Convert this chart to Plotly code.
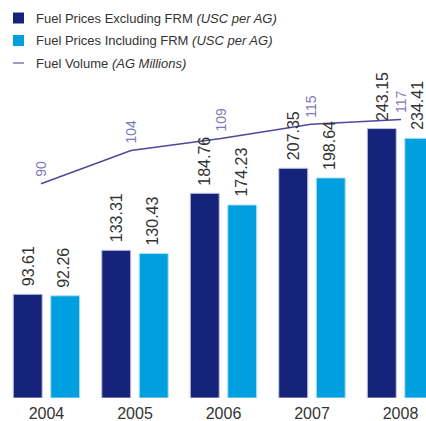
import plotly.graph_objects as go

years = ["2004", "2005", "2006", "2007", "2008"]
excl_frm = [93.61, 133.31, 184.76, 207.35, 243.15]
incl_frm = [92.26, 130.43, 174.23, 198.64, 234.41]
volume = [90, 104, 109, 115, 117]

legend_names = [
    "Fuel Prices Excluding FRM <i>(USC per AG)</i>",
    "Fuel Prices Including FRM <i>(USC per AG)</i>",
    "Fuel Volume <i>(AG Millions)</i>",
]

DARK = "#15237a"
LIGHT = "#009fe0"
LINE = "#4e4898"
LINE_TXT = "#7f7abb"
TXT = "#333333"
FONT = "Liberation Sans"

W, H = 426, 421
TOP, BOT = 88, 398  # plot area in figure pixels
PH = BOT - TOP

xs = list(range(len(years)))

fig = go.Figure()
fig.add_trace(go.Bar(x=xs, y=excl_frm, marker=dict(color=DARK, line=dict(color="#c3c6e6", width=1)),
                     name=legend_names[0], showlegend=False))
fig.add_trace(go.Bar(x=xs, y=incl_frm, marker=dict(color=LIGHT, line=dict(color="#b8e2f6", width=1)),
                     name=legend_names[1], showlegend=False))
fig.add_trace(go.Scatter(x=xs, y=volume, mode="lines", line=dict(color=LINE, width=1.5),
                         xaxis="x2", yaxis="y2", name=legend_names[2], showlegend=False))

annotations = []
for i in xs:
    annotations.append(dict(x=i - 0.21, y=excl_frm[i], xref="x", yref="y", text=f"{excl_frm[i]:.2f}",
                            textangle=-90, showarrow=False, yanchor="bottom", xanchor="center", yshift=6,
                            font=dict(family=FONT, size=16, color=TXT)))
    annotations.append(dict(x=i + 0.21, y=incl_frm[i], xref="x", yref="y", text=f"{incl_frm[i]:.2f}",
                            textangle=-90, showarrow=False, yanchor="bottom", xanchor="center", yshift=6,
                            xshift=-1, font=dict(family=FONT, size=16, color=TXT)))
    annotations.append(dict(x=i, y=volume[i], xref="x2", yref="y2", text=str(volume[i]),
                            textangle=-90, showarrow=False, yanchor="bottom", xanchor="center", yshift=5,
                            font=dict(family=FONT, size=14, color=LINE_TXT)))


def py(yp):
    return (BOT - yp) / PH


def px(xp):
    return xp / W


rows_y = [18, 40.5, 63]
shapes = []
colors = [DARK, LIGHT]
for k, yy in enumerate(rows_y):
    if k < 2:
        shapes.append(dict(type="rect", xref="paper", yref="paper",
                           x0=px(13), x1=px(24), y0=py(yy + 5.5), y1=py(yy - 5.5),
                           fillcolor=colors[k], line=dict(width=0)))
    else:
        shapes.append(dict(type="line", xref="paper", yref="paper",
                           x0=px(13), x1=px(24), y0=py(yy), y1=py(yy),
                           line=dict(color=LINE_TXT, width=1.5)))
    annotations.append(dict(xref="paper", yref="paper", x=px(34), y=py(yy), text=legend_names[k],
                            showarrow=False, xanchor="left", yanchor="middle",
                            font=dict(family=FONT, size=13, color=TXT)))

fig.update_layout(
    width=W, height=H,
    margin=dict(l=0, r=0, t=TOP, b=H - BOT, pad=0),
    paper_bgcolor="white", plot_bgcolor="white",
    barmode="group", bargap=0.153, bargroupgap=0.227,
    showlegend=False,
    hovermode=False,
    xaxis=dict(range=[-0.525, 4.288], tickvals=xs, ticktext=years, showgrid=False, zeroline=False,
               showline=False, ticks="", ticklabelstandoff=4,
               tickfont=dict(family=FONT, size=16, color=TXT), fixedrange=True),
    xaxis2=dict(range=[-0.4556, 4.278], overlaying="x", visible=False, showgrid=False, zeroline=False),
    yaxis=dict(range=[0, PH / 1.108], visible=False, showgrid=False, zeroline=False),
    yaxis2=dict(range=[0, PH / 2.38], visible=False, overlaying="y", showgrid=False, zeroline=False),
    annotations=annotations,
    shapes=shapes,
)

fig.write_html(
    "out.html",
    config={"displayModeBar": False},
    post_script="document.body.style.margin='0';document.body.style.overflow='hidden';",
)
